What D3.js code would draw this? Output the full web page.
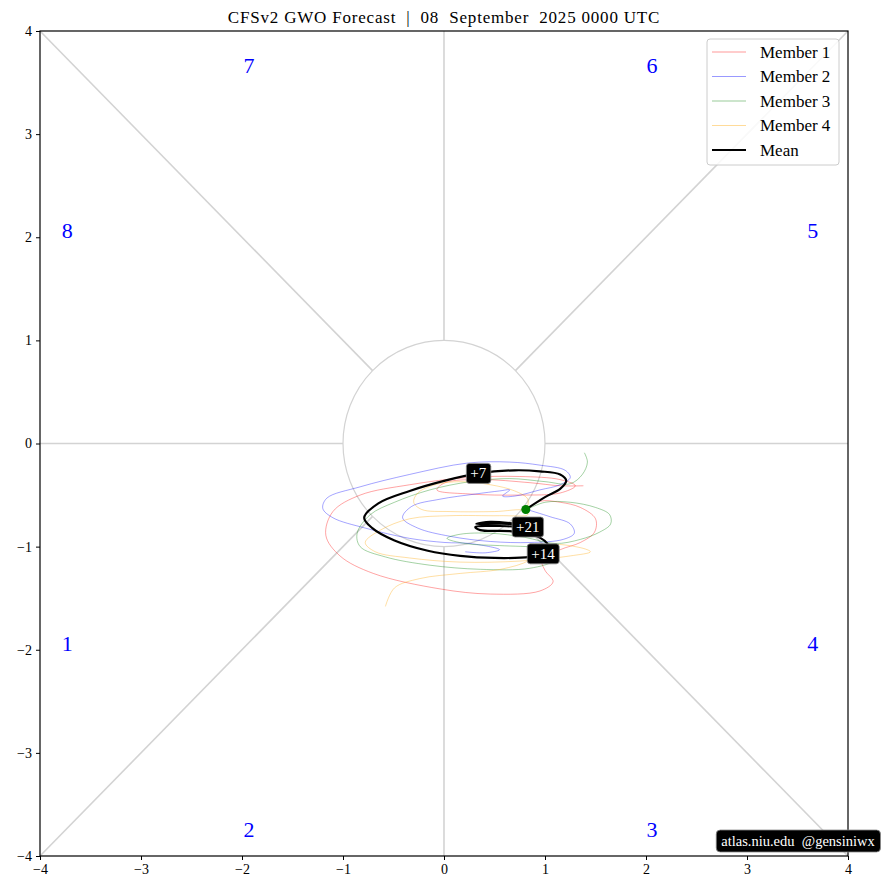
<!DOCTYPE html>
<html><head><meta charset="utf-8">
<script src="https://cdn.jsdelivr.net/npm/d3@7"></script>
<style>
html,body{margin:0;padding:0;background:#fff;}
svg text{font-family:"Liberation Serif","DejaVu Serif",serif;white-space:pre;}
</style></head>
<body><svg id="c" width="881" height="890"></svg>
<script>
// ---------- data ----------
const titleText = "CFSv2 GWO Forecast  |  08  September  2025 0000 UTC";
const ticks = [-4,-3,-2,-1,0,1,2,3,4];
const seriesNames = ["Member 1","Member 2","Member 3","Member 4","Mean"];
const seriesColors = ["rgba(255,0,0,0.4)","rgba(0,0,255,0.4)","rgba(0,128,0,0.4)","rgba(255,165,0,0.4)","#000"];

const member1 = [[0.82,-0.64],[0.95,-0.56],[1.15,-0.57],[1.35,-0.62],[1.50,-0.73],[1.49,-0.86],[1.35,-0.96],[1.15,-1.03],[0.97,-1.13],[1.00,-1.23],[1.08,-1.34],[0.95,-1.43],[0.46,-1.46],[-0.04,-1.41],[-0.70,-1.26],[-1.03,-1.09],[-1.17,-0.89],[-1.10,-0.66],[-0.83,-0.50],[-0.34,-0.40],[0.23,-0.33],[0.75,-0.32],[1.15,-0.35],[1.30,-0.41],[1.15,-0.48],[0.75,-0.50],[0.26,-0.49],[-0.07,-0.45],[0.01,-0.38],[0.36,-0.35],[0.85,-0.38],[1.15,-0.41],[1.38,-0.41]];
const member2 = [[0.82,-0.64],[1.05,-0.71],[1.25,-0.78],[1.29,-0.87],[1.18,-0.93],[0.85,-0.96],[0.46,-0.95],[0.06,-0.90],[-0.26,-0.82],[-0.41,-0.72],[-0.32,-0.61],[-0.04,-0.54],[0.31,-0.49],[0.55,-0.46],[0.65,-0.45],[0.58,-0.51],[0.70,-0.51],[0.95,-0.45],[1.15,-0.40],[1.25,-0.33],[1.20,-0.26],[0.95,-0.21],[0.65,-0.18],[0.23,-0.19],[-0.34,-0.30],[-0.83,-0.42],[-1.16,-0.53],[-1.20,-0.63],[-1.10,-0.72],[-0.78,-0.82],[-0.34,-0.92],[0.01,-0.96],[0.26,-0.97],[0.55,-1.03],[0.41,-1.06],[0.21,-1.05]];
const member3 = [[0.82,-0.64],[1.00,-0.57],[1.25,-0.57],[1.50,-0.62],[1.64,-0.69],[1.65,-0.78],[1.54,-0.86],[1.35,-0.93],[1.10,-0.97],[0.80,-0.91],[0.46,-0.87],[0.16,-0.88],[0.03,-0.92],[0.21,-0.97],[0.55,-0.99],[0.95,-1.01],[1.13,-1.05],[1.10,-1.13],[0.85,-1.21],[0.36,-1.22],[-0.14,-1.18],[-0.58,-1.10],[-0.83,-1.00],[-0.86,-0.87],[-0.73,-0.69],[-0.49,-0.57],[-0.14,-0.45],[0.26,-0.37],[0.65,-0.34],[1.00,-0.37],[1.25,-0.39],[1.37,-0.30],[1.42,-0.18],[1.39,-0.09]];
const member4 = [[0.82,-0.64],[0.83,-0.54],[0.70,-0.46],[0.46,-0.40],[0.16,-0.37],[-0.09,-0.40],[-0.26,-0.48],[-0.30,-0.57],[-0.22,-0.64],[0.06,-0.66],[0.50,-0.66],[0.80,-0.65],[0.83,-0.69],[0.55,-0.70],[0.06,-0.70],[-0.34,-0.73],[-0.63,-0.84],[-0.78,-0.96],[-0.68,-1.05],[-0.34,-1.11],[0.16,-1.15],[0.75,-1.14],[1.25,-1.09],[1.45,-1.05],[1.35,-1.01],[1.00,-0.99],[0.85,-1.13],[0.56,-1.22],[0.16,-1.26],[-0.24,-1.31],[-0.49,-1.40],[-0.58,-1.58]];
const meanPath = [[0.81,-0.64],[1.00,-0.52],[1.15,-0.44],[1.21,-0.36],[1.15,-0.30],[0.95,-0.27],[0.70,-0.26],[0.34,-0.29],[0.01,-0.36],[-0.34,-0.46],[-0.65,-0.58],[-0.79,-0.72],[-0.71,-0.82],[-0.49,-0.94],[-0.16,-1.04],[0.16,-1.09],[0.50,-1.11],[0.85,-1.10],[0.98,-1.07],[1.03,-0.99],[0.90,-0.89],[0.65,-0.85],[0.36,-0.84],[0.31,-0.81],[0.55,-0.80],[0.83,-0.81],[0.65,-0.78],[0.32,-0.78],[0.46,-0.76],[0.80,-0.79]];
const dayLabels = ["+7","+14","+21"];
const dayIndex = [7,18,25];
const phaseNames = ["1","2","3","4","5","6","7","8"];
const phaseX = [-3.73,-1.93,2.06,3.65,3.65,2.06,-1.93,-3.73];
const phaseY = [-1.94,-3.74,-3.74,-1.94,2.07,3.67,3.67,2.07];
const watermark = "atlas.niu.edu  @gensiniwx";

// ---------- layout ----------
const svg = d3.select("#c");
const L=40, R=848, T=31, B=856;
const x = d3.scaleLinear().domain([-4,4]).range([L,R]);
const y = d3.scaleLinear().domain([-4,4]).range([B,T]);
const grid = "#d3d3d3";

const g = svg.append("g");
// reference lines
const segs = [[[-4,0],[-1,0]],[[1,0],[4,0]],[[0,-4],[0,-1]],[[0,1],[0,4]],
  [[-4,-4],[-Math.SQRT1_2,-Math.SQRT1_2]],[[4,4],[Math.SQRT1_2,Math.SQRT1_2]],
  [[-4,4],[-Math.SQRT1_2,Math.SQRT1_2]],[[4,-4],[Math.SQRT1_2,-Math.SQRT1_2]]];
g.selectAll("line.ref").data(segs).join("line")
  .attr("x1",d=>x(d[0][0])).attr("y1",d=>y(d[0][1]))
  .attr("x2",d=>x(d[1][0])).attr("y2",d=>y(d[1][1]))
  .attr("stroke",grid).attr("stroke-width",1.6);
g.append("ellipse").attr("cx",x(0)).attr("cy",y(0))
  .attr("rx",x(1)-x(0)).attr("ry",y(0)-y(1))
  .attr("fill","none").attr("stroke",grid).attr("stroke-width",1.2);

// phase numbers
g.selectAll("text.ph").data(phaseNames).join("text")
  .attr("x",(d,i)=>x(phaseX[i])).attr("y",(d,i)=>y(phaseY[i]))
  .attr("text-anchor","middle").attr("dominant-baseline","central")
  .attr("fill","blue").attr("font-size",22).text(d=>d);

// traces
const line = d3.line().x(d=>x(d[0])).y(d=>y(d[1])).curve(d3.curveCatmullRom.alpha(0.5));
const members=[member1,member2,member3,member4];
members.forEach((m,i)=>{
  g.append("path").attr("d",line(m)).attr("fill","none")
   .attr("stroke",seriesColors[i]).attr("stroke-width",0.9);
});
g.append("path").attr("d",line(meanPath)).attr("fill","none")
  .attr("stroke","#000").attr("stroke-width",2.2);
g.append("circle").attr("cx",x(meanPath[0][0])).attr("cy",y(meanPath[0][1]))
  .attr("r",4.5).attr("fill","green");

// day labels
dayLabels.forEach((lab,i)=>{
  const p = meanPath[dayIndex[i]];
  const gg = g.append("g").attr("transform",`translate(${x(p[0])},${y(p[1])})`);
  const t = gg.append("text").attr("text-anchor","middle").attr("dominant-baseline","central")
    .attr("fill","#fff").attr("font-size",15).text(lab);
  const bb = t.node().getBBox();
  gg.insert("rect","text").attr("x",bb.x-4).attr("y",-10).attr("width",bb.width+8).attr("height",20)
    .attr("rx",3).attr("fill","#000").attr("stroke","#888").attr("stroke-width",0.8);
});

// axes frame
svg.append("rect").attr("x",L).attr("y",T).attr("width",R-L).attr("height",B-T)
  .attr("fill","none").attr("stroke","#000").attr("stroke-width",1.2);
const fmt = d=> d<0 ? "\u2212"+Math.abs(d) : String(d);
const xa = svg.append("g").attr("transform",`translate(0,${B})`)
  .call(d3.axisBottom(x).tickValues(ticks).tickFormat(fmt).tickSize(4).tickPadding(4));
const ya = svg.append("g").attr("transform",`translate(${L},0)`)
  .call(d3.axisLeft(y).tickValues(ticks).tickFormat(fmt).tickSize(4).tickPadding(4));
[xa,ya].forEach(a=>{a.select(".domain").remove();
  a.selectAll("text").attr("font-family","Liberation Serif").attr("font-size",14).attr("fill","#000");
  a.selectAll("line").attr("stroke","#000");});

// legend
const lg = svg.append("g");
lg.append("rect").attr("x",707).attr("y",39).attr("width",132).attr("height",126)
  .attr("rx",3).attr("fill","rgba(255,255,255,0.85)").attr("stroke","#ccc");
seriesNames.forEach((n,i)=>{
  const yy = 52 + i*24.5;
  lg.append("line").attr("x1",712).attr("x2",746).attr("y1",yy).attr("y2",yy)
    .attr("stroke",seriesColors[i]).attr("stroke-width",i===4?2:1);
  lg.append("text").attr("x",760).attr("y",yy).attr("dominant-baseline","central")
    .attr("font-size",17).text(n);
});

// title
svg.append("text").attr("x",444).attr("y",17).attr("text-anchor","middle")
  .attr("dominant-baseline","central").attr("font-size",17).attr("letter-spacing",0.8).text(titleText);

// watermark
const wm = svg.append("g");
const wt = wm.append("text").attr("x",798).attr("y",841).attr("text-anchor","middle")
  .attr("dominant-baseline","central").attr("fill","#fff").attr("font-size",14.5).text(watermark);
const wb = wt.node().getBBox();
wm.insert("rect","text").attr("x",wb.x-5).attr("y",830).attr("width",wb.width+10).attr("height",22)
  .attr("rx",4).attr("fill","#000").attr("stroke","#888").attr("stroke-width",0.8);
</script></body></html>
